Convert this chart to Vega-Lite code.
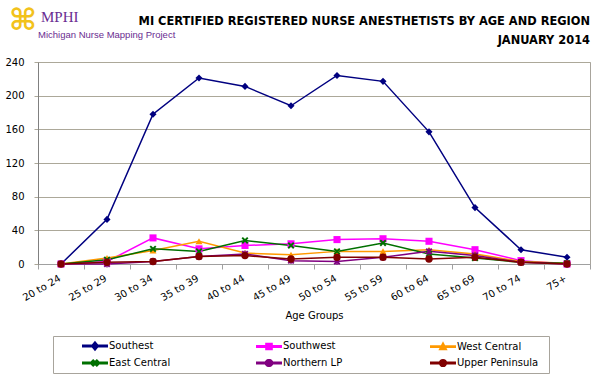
{
  "$schema": "https://vega.github.io/schema/vega-lite/v6.json",
  "width": 552,
  "height": 202,
  "padding": {"left": 4, "top": 5, "right": 8, "bottom": 4},
  "background": "white",
  "title": {
    "text": ["MI CERTIFIED REGISTERED NURSE ANESTHETISTS BY AGE AND REGION", "JANUARY 2014"],
    "anchor": "end",
    "frame": "group",
    "font": "DejaVu Sans",
    "fontSize": 11.4,
    "fontWeight": "bold",
    "color": "#000000",
    "lineHeight": 19,
    "offset": -41
  },
  "data": {
    "values": [
      {"age": "20 to 24", "region": "Southest", "n": 0},
      {"age": "25 to 29", "region": "Southest", "n": 53},
      {"age": "30 to 34", "region": "Southest", "n": 178},
      {"age": "35 to 39", "region": "Southest", "n": 221},
      {"age": "40 to 44", "region": "Southest", "n": 211},
      {"age": "45 to 49", "region": "Southest", "n": 188},
      {"age": "50 to 54", "region": "Southest", "n": 224},
      {"age": "55 to 59", "region": "Southest", "n": 217},
      {"age": "60 to 64", "region": "Southest", "n": 157},
      {"age": "65 to 69", "region": "Southest", "n": 67},
      {"age": "70 to 74", "region": "Southest", "n": 17},
      {"age": "75+", "region": "Southest", "n": 8},
      {"age": "20 to 24", "region": "Southwest", "n": 0},
      {"age": "25 to 29", "region": "Southwest", "n": 3},
      {"age": "30 to 34", "region": "Southwest", "n": 31},
      {"age": "35 to 39", "region": "Southwest", "n": 18},
      {"age": "40 to 44", "region": "Southwest", "n": 22},
      {"age": "45 to 49", "region": "Southwest", "n": 24},
      {"age": "50 to 54", "region": "Southwest", "n": 29},
      {"age": "55 to 59", "region": "Southwest", "n": 30},
      {"age": "60 to 64", "region": "Southwest", "n": 27},
      {"age": "65 to 69", "region": "Southwest", "n": 17},
      {"age": "70 to 74", "region": "Southwest", "n": 4},
      {"age": "75+", "region": "Southwest", "n": 0},
      {"age": "20 to 24", "region": "West Central", "n": 0},
      {"age": "25 to 29", "region": "West Central", "n": 7},
      {"age": "30 to 34", "region": "West Central", "n": 16},
      {"age": "35 to 39", "region": "West Central", "n": 27},
      {"age": "40 to 44", "region": "West Central", "n": 13},
      {"age": "45 to 49", "region": "West Central", "n": 11},
      {"age": "50 to 54", "region": "West Central", "n": 15},
      {"age": "55 to 59", "region": "West Central", "n": 15},
      {"age": "60 to 64", "region": "West Central", "n": 17},
      {"age": "65 to 69", "region": "West Central", "n": 12},
      {"age": "70 to 74", "region": "West Central", "n": 3},
      {"age": "75+", "region": "West Central", "n": 1},
      {"age": "20 to 24", "region": "East Central", "n": 0},
      {"age": "25 to 29", "region": "East Central", "n": 5},
      {"age": "30 to 34", "region": "East Central", "n": 18},
      {"age": "35 to 39", "region": "East Central", "n": 15},
      {"age": "40 to 44", "region": "East Central", "n": 28},
      {"age": "45 to 49", "region": "East Central", "n": 22},
      {"age": "50 to 54", "region": "East Central", "n": 15},
      {"age": "55 to 59", "region": "East Central", "n": 25},
      {"age": "60 to 64", "region": "East Central", "n": 12},
      {"age": "65 to 69", "region": "East Central", "n": 7},
      {"age": "70 to 74", "region": "East Central", "n": 2},
      {"age": "75+", "region": "East Central", "n": 1},
      {"age": "20 to 24", "region": "Northern LP", "n": 0},
      {"age": "25 to 29", "region": "Northern LP", "n": 0},
      {"age": "30 to 34", "region": "Northern LP", "n": 3},
      {"age": "35 to 39", "region": "Northern LP", "n": 9},
      {"age": "40 to 44", "region": "Northern LP", "n": 12},
      {"age": "45 to 49", "region": "Northern LP", "n": 4},
      {"age": "50 to 54", "region": "Northern LP", "n": 3},
      {"age": "55 to 59", "region": "Northern LP", "n": 8},
      {"age": "60 to 64", "region": "Northern LP", "n": 15},
      {"age": "65 to 69", "region": "Northern LP", "n": 10},
      {"age": "70 to 74", "region": "Northern LP", "n": 2},
      {"age": "75+", "region": "Northern LP", "n": 0},
      {"age": "20 to 24", "region": "Upper Peninsula", "n": 0},
      {"age": "25 to 29", "region": "Upper Peninsula", "n": 2},
      {"age": "30 to 34", "region": "Upper Peninsula", "n": 3},
      {"age": "35 to 39", "region": "Upper Peninsula", "n": 9},
      {"age": "40 to 44", "region": "Upper Peninsula", "n": 10},
      {"age": "45 to 49", "region": "Upper Peninsula", "n": 6},
      {"age": "50 to 54", "region": "Upper Peninsula", "n": 8},
      {"age": "55 to 59", "region": "Upper Peninsula", "n": 8},
      {"age": "60 to 64", "region": "Upper Peninsula", "n": 6},
      {"age": "65 to 69", "region": "Upper Peninsula", "n": 8},
      {"age": "70 to 74", "region": "Upper Peninsula", "n": 2},
      {"age": "75+", "region": "Upper Peninsula", "n": 0}
    ]
  },
  "layer": [
    {
      "encoding": {
        "x": {
          "field": "age",
          "type": "ordinal",
          "sort": ["20 to 24", "25 to 29", "30 to 34", "35 to 39", "40 to 44", "45 to 49", "50 to 54", "55 to 59", "60 to 64", "65 to 69", "70 to 74", "75+"],
          "scale": {"type": "band", "paddingInner": 0, "paddingOuter": 0},
          "axis": {"title": "Age Groups", "labelAngle": -30, "labelAlign": "right", "labelBaseline": "top", "labelOffset": -4, "tickBand": "extent", "grid": false, "tickSize": 5, "labelPadding": 4, "titlePadding": 8, "domainColor": "#a0a0a0", "tickColor": "#a0a0a0"}
        },
        "y": {
          "field": "n",
          "type": "quantitative",
          "scale": {"domain": [0, 240], "nice": false},
          "axis": {"title": null, "values": [0, 40, 80, 120, 160, 200, 240], "labelOverlap": false, "tickSize": 4, "labelPadding": 10, "grid": true, "domainColor": "#808080", "tickColor": "#aca899"}
        },
        "color": {
          "field": "region",
          "type": "nominal",
          "scale": {
            "domain": ["Southest", "Southwest", "West Central", "East Central", "Northern LP", "Upper Peninsula"],
            "range": ["#000080", "#ff00ff", "#ff9900", "#007000", "#800080", "#800000"]
          },
          "legend": {
            "orient": "none",
            "legendX": 15,
            "legendY": 274,
            "direction": "horizontal",
            "columns": 3,
            "title": null,
            "symbolSize": 150,
            "symbolStrokeWidth": 1.5,
            "symbolOffset": 32,
            "labelOffset": 7,
            "columnPadding": 32,
            "rowPadding": 3,
            "gridAlign": "all",
            "padding": 3,
            "strokeColor": "#a8a49c",
            "fillColor": "white",
            "symbolOpacity": 1,
            "labelFont": "DejaVu Sans",
            "labelFontSize": 10,
            "labelColor": "#000000",
            "labelExpr": "datum.label + '⠀'"
          }
        }
      },
      "layer": [
        {"mark": {"type": "line", "strokeWidth": 1.5}},
        {
          "transform": [{"filter": "false"}],
          "mark": {"type": "point", "filled": true, "opacity": 1, "size": 150},
          "encoding": {
            "shape": {
              "field": "region",
              "type": "nominal",
              "scale": {
                "domain": ["Southest", "Southwest", "West Central", "East Central", "Northern LP", "Upper Peninsula"],
                "range": [
                  "M-2,-0.11L2,-0.11L2,0.11L-2,0.11ZM0,-0.65L0.55,0L0,0.65L-0.55,0Z",
                  "M-2,-0.11L2,-0.11L2,0.11L-2,0.11ZM-0.5,-0.5L0.5,-0.5L0.5,0.5L-0.5,0.5Z",
                  "M-2,-0.11L2,-0.11L2,0.11L-2,0.11ZM0,-0.6L0.55,0.45L-0.55,0.45Z",
                  "M-2,-0.11L2,-0.11L2,0.11L-2,0.11ZM-0.5,-0.3L-0.3,-0.5L0,-0.2L0.3,-0.5L0.5,-0.3L0.2,0L0.5,0.3L0.3,0.5L0,0.2L-0.3,0.5L-0.5,0.3L-0.2,0Z",
                  "M-2,-0.11L2,-0.11L2,0.11L-2,0.11ZM-0.5,-0.3L-0.3,-0.5L0,-0.2L0.3,-0.5L0.5,-0.3L0.2,0L0.5,0.3L0.3,0.5L0,0.2L-0.3,0.5L-0.5,0.3L-0.2,0ZM-0.09,-0.55L0.09,-0.55L0.09,0.55L-0.09,0.55Z",
                  "M-2,-0.11L2,-0.11L2,0.11L-2,0.11ZM0.55,0A0.55,0.55,0,1,1,-0.55,0A0.55,0.55,0,1,1,0.55,0Z"
                ]
              }
            }
          }
        },
        {
          "transform": [{"filter": "datum.region === 'Southest'"}],
          "mark": {"type": "point", "filled": true, "opacity": 1, "size": 50, "shape": "diamond"}
        },
        {
          "transform": [{"filter": "datum.region === 'Southwest'"}],
          "mark": {"type": "point", "filled": true, "opacity": 1, "size": 50, "shape": "square"}
        },
        {
          "transform": [{"filter": "datum.region === 'West Central'"}],
          "mark": {"type": "point", "filled": true, "opacity": 1, "size": 50, "shape": "triangle-up"}
        },
        {
          "transform": [{"filter": "datum.region === 'East Central'"}],
          "mark": {"type": "point", "filled": true, "opacity": 1, "size": 48, "shape": "M-1,-0.6L-0.6,-1L0,-0.4L0.6,-1L1,-0.6L0.4,0L1,0.6L0.6,1L0,0.4L-0.6,1L-1,0.6L-0.4,0Z"}
        },
        {
          "transform": [{"filter": "datum.region === 'Northern LP'"}],
          "mark": {"type": "point", "filled": true, "opacity": 1, "size": 48, "shape": "M-1,-0.6L-0.6,-1L0,-0.4L0.6,-1L1,-0.6L0.4,0L1,0.6L0.6,1L0,0.4L-0.6,1L-1,0.6L-0.4,0ZM-0.18,-1L0.18,-1L0.18,1L-0.18,1Z"}
        },
        {
          "transform": [{"filter": "datum.region === 'Upper Peninsula'"}],
          "mark": {"type": "point", "filled": true, "opacity": 1, "size": 55, "shape": "circle"}
        }
      ]
    },
    {
      "data": {"values": [{"t": "⌘"}]},
      "mark": {"type": "text", "align": "center", "baseline": "middle", "font": "DejaVu Sans", "fontSize": 30, "fontWeight": "bold", "color": "#f2c21b", "dx": -38},
      "encoding": {"text": {"field": "t"}, "x": {"datum": "20 to 24"}, "y": {"datum": 289, "axis": {"values": [0, 40, 80, 120, 160, 200, 240]}}}
    },
    {
      "data": {"values": [{"t": "MPHI"}]},
      "mark": {"type": "text", "align": "left", "baseline": "alphabetic", "font": "Liberation Serif", "fontSize": 15, "color": "#6a2c91", "dx": -20},
      "encoding": {"text": {"field": "t"}, "x": {"datum": "20 to 24"}, "y": {"datum": 287, "axis": {"values": [0, 40, 80, 120, 160, 200, 240]}}}
    },
    {
      "data": {"values": [{"t": "Michigan Nurse Mapping Project"}]},
      "mark": {"type": "text", "align": "left", "baseline": "alphabetic", "font": "Liberation Sans", "fontSize": 9.5, "color": "#6a2c91", "dx": -23},
      "encoding": {"text": {"field": "t"}, "x": {"datum": "20 to 24"}, "y": {"datum": 268, "axis": {"values": [0, 40, 80, 120, 160, 200, 240]}}}
    }
  ],
  "config": {
    "font": "DejaVu Sans",
    "view": {"stroke": "#a8a49c", "strokeWidth": 1},
    "axis": {
      "labelFont": "DejaVu Sans",
      "labelFontSize": 10,
      "labelColor": "#000000",
      "titleFont": "DejaVu Sans",
      "titleFontSize": 10,
      "titleFontWeight": "normal",
      "titleColor": "#000000",
      "domainColor": "#8c8c8c",
      "tickColor": "#8c8c8c",
      "gridColor": "#aca899"
    }
  }
}
